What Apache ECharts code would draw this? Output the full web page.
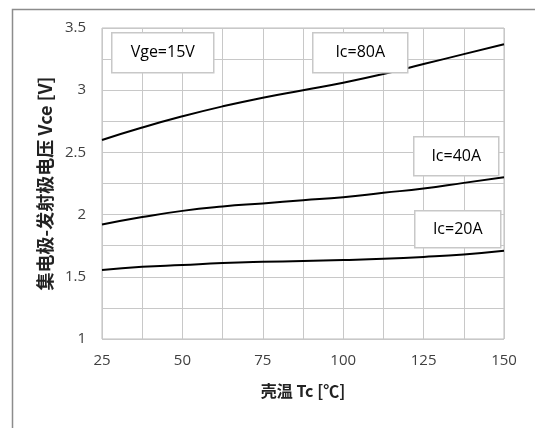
<!DOCTYPE html>
<html><head><meta charset="utf-8">
<script src="https://cdn.jsdelivr.net/npm/echarts@6/dist/echarts.min.js"></script>
<style>html,body{margin:0;padding:0;background:#fff}#c{width:535px;height:428px}</style>
</head><body><div id="c"></div>
<script>
const temps = [25, 37.5, 50, 62.5, 75, 87.5, 100, 112.5, 125, 137.5, 150];
const ic80 = [2.60, 2.70, 2.79, 2.87, 2.94, 3.00, 3.06, 3.13, 3.21, 3.29, 3.37];
const ic40 = [1.92, 1.98, 2.03, 2.065, 2.09, 2.115, 2.14, 2.175, 2.21, 2.255, 2.30];
const ic20 = [1.555, 1.58, 1.595, 1.61, 1.62, 1.627, 1.635, 1.645, 1.66, 1.68, 1.71];
const seriesNames = ['Ic=80A', 'Ic=40A', 'Ic=20A'];
const xName = '壳温 Tc [℃]';
const yName = '集电极-发射极电压 Vce [V]';
const noteText = 'Vge=15V';

const chart = echarts.init(document.getElementById('c'), null, {renderer: 'canvas'});
const toPairs = arr => temps.map((t, i) => [t, arr[i]]);
const fontFam = '"Open Sans", Lato, "Noto Sans CJK SC", sans-serif';
function box(x, y, w, h, txt) {
  return {type: 'group', left: x, top: y, z: 100, children: [
    {type: 'rect', z: 100, shape: {x: 0, y: 0, width: w, height: h}, style: {fill: '#fff', stroke: '#c8c8c8', lineWidth: 1.5}},
    {type: 'text', z: 101, style: {x: w / 2, y: h / 2, text: txt, fill: '#000', font: '16px ' + fontFam, textAlign: 'center', textVerticalAlign: 'middle'}}
  ]};
}
chart.setOption({
  animation: false,
  grid: {left: 102, top: 28, width: 402, height: 311, show: true, borderColor: '#bdbdbd', borderWidth: 1},
  xAxis: {
    type: 'value', min: 25, max: 150, interval: 12.5,
    name: xName, nameLocation: 'middle', nameGap: 44,
    nameTextStyle: {fontSize: 16, fontWeight: 'bold', color: '#222', fontFamily: '"Noto Sans CJK SC", sans-serif'},
    axisLine: {show: false}, axisTick: {show: false},
    axisLabel: {fontSize: 15, color: '#404040', margin: 14, fontFamily: fontFam,
      formatter: v => (v % 25 === 0 ? String(v) : '')},
    splitLine: {show: true, lineStyle: {color: '#c8c8c8', width: 1}}
  },
  yAxis: {
    type: 'value', min: 1, max: 3.5, interval: 0.25,
    name: yName, nameLocation: 'middle', nameGap: 48, nameRotate: 90,
    nameTextStyle: {fontSize: 18, fontWeight: 'bold', color: '#222', fontFamily: '"Noto Sans CJK SC", sans-serif'},
    axisLine: {show: false}, axisTick: {show: false},
    axisLabel: {fontSize: 15, color: '#404040', margin: 16, fontFamily: fontFam,
      formatter: v => (Math.abs(v * 2 - Math.round(v * 2)) < 1e-6 ? String(v) : '')},
    splitLine: {show: true, lineStyle: {color: '#c8c8c8', width: 1}}
  },
  series: [ic80, ic40, ic20].map((d, i) => ({
    name: seriesNames[i], type: 'line', data: toPairs(d), smooth: true, z: 5,
    showSymbol: false, lineStyle: {color: '#000', width: 2}
  })),
  graphic: [
    {type: 'rect', left: 10, top: 7, z: 0, shape: {x: 0, y: 0, width: 540, height: 430}, style: {fill: 'none', stroke: '#8c8c8c', lineWidth: 1.5}},
    box(111, 32, 102, 40, noteText),
    box(312, 32, 95, 40, seriesNames[0]),
    box(413, 136, 85, 39, seriesNames[1]),
    box(414, 210, 86, 37, seriesNames[2])
  ]
});
</script></body></html>
